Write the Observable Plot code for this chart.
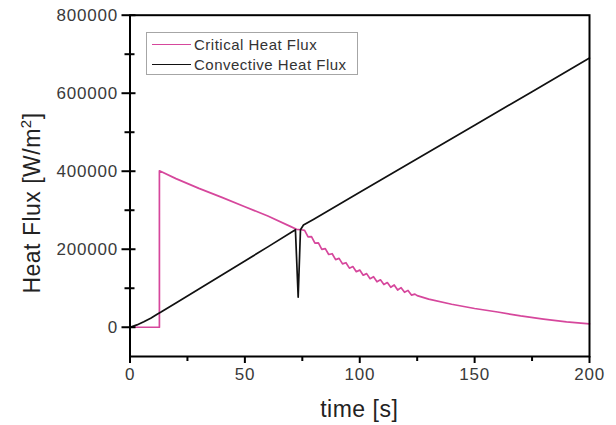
<!DOCTYPE html>
<html>
<head>
<meta charset="utf-8">
<script src="https://cdn.jsdelivr.net/npm/d3@7"></script>
<script src="https://cdn.jsdelivr.net/npm/@observablehq/plot@0.6"></script>
<style>
  body { margin: 0; background: #fff; }
  #wrap { position: relative; width: 616px; height: 425px; font-family: "Liberation Sans", Arial, sans-serif; }
  #legend { position: absolute; left: 146px; top: 32px; width: 212px; height: 43px; border: 1px solid #a6a6a6; background: #fff; box-sizing: border-box; }
  .row { position: absolute; left: 0; height: 18px; width: 100%; }
  .sw { position: absolute; left: 5px; top: 8px; width: 39px; height: 0; border-top: 1.6px solid; }
  .lt { position: absolute; left: 47px; top: 0; font-size: 15px; line-height: 18px; color: #333; letter-spacing: 0.5px; white-space: nowrap; }
</style>
</head>
<body>
<div id="wrap"><div id="chart"></div><div id="legend"></div></div>
<script>
// ---- data ----
const seriesNames = ["Critical Heat Flux", "Convective Heat Flux"];
const seriesColors = ["#d6479c", "#111111"];

const critT = [0, 12.8, 12.8, 20, 30, 40, 50, 60, 70, 72.5, 74.5,
  76, 77.5, 79, 80.5, 82, 83.5, 85, 86.5, 88, 89.5, 91, 92.5, 94, 95.5, 97, 98.5,
  100, 101.5, 103, 104.5, 106, 107.5, 109, 110.5, 112, 113.5, 115, 116.5, 118, 119.5,
  121, 122.5, 124, 125, 130, 140, 150, 160, 170, 180, 190, 200];
const critV = [0, 0, 401000, 381000, 356000, 333000, 309000, 285000, 258000, 251000, 250000,
  248500, 231500, 232500, 215500, 216500, 199500, 201500, 186500, 188500, 173500, 176500, 162500, 165500, 151500, 155500, 142500,
  146500, 133500, 137500, 124500, 129500, 116500, 121500, 109500, 114500, 102500, 108500, 95500, 101500, 89500,
  94500, 82500, 85000, 81000, 72000, 59000, 48000, 39000, 29000, 21000, 14000, 8500];

const convT = [0, 3, 6, 9, 12, 13.5, 20, 30, 40, 50, 60, 72, 73.2, 74.2, 75.5, 80, 100, 125, 150, 175, 200];
const convV = [0, 6000, 14000, 23000, 34000, 39000, 62000, 98000, 134000, 170000, 206000, 250000, 77000, 250000, 262000, 277000, 346000, 432000, 518000, 604000, 690000];

const xMajor = [0, 50, 100, 150, 200];
const xMinor = [25, 75, 125, 175];
const yMajor = [0, 200000, 400000, 600000, 800000];
const yMinor = [100000, 300000, 500000, 700000];

const xTitle = "time [s]";
const yTitleMain = "Heat Flux [W/m";
const yTitleSup = "2";
const yTitleEnd = "]";

// ---- build ----
const crit = critT.map((t, i) => ({t, v: critV[i]}));
const conv = convT.map((t, i) => ({t, v: convV[i]}));

const W = 616, H = 425, mL = 129.5, mR = 27, mT = 14.7, mB = 69;
const plotW = W - mL - mR;

const chart = Plot.plot({
  width: W, height: H,
  marginLeft: mL, marginRight: mR, marginTop: mT, marginBottom: mB,
  x: {domain: [0, 200]},
  y: {domain: [-75000, 800000]},
  style: {fontFamily: '"Liberation Sans", Arial, sans-serif', fontSize: "17px", color: "#3a3a3a", background: "#fff", letterSpacing: "0.8px"},
  marks: [
    Plot.line(crit, {x: "t", y: "v", stroke: seriesColors[0], strokeWidth: 1.7}),
    Plot.line(conv, {x: "t", y: "v", stroke: seriesColors[1], strokeWidth: 1.7}),
    Plot.frame({stroke: "#000", strokeWidth: 2}),
    Plot.axisX(xMajor, {tickSize: 7, tickPadding: 4, strokeWidth: 2, stroke: "#000", label: null, tickFormat: d => String(d)}),
    Plot.axisX(xMinor, {tickSize: 5, strokeWidth: 2, stroke: "#000", label: null, tickFormat: () => ""}),
    Plot.axisY(yMajor, {tickSize: 8, tickPadding: 4, strokeWidth: 2, stroke: "#000", label: null, tickFormat: d => String(d)}),
    Plot.axisY(yMinor, {tickSize: 5, strokeWidth: 2, stroke: "#000", label: null, tickFormat: () => ""}),
    Plot.tickY(yMajor, {y: d => d, insetRight: plotW - 6, stroke: "#000", strokeWidth: 2}),
    Plot.tickY(yMinor, {y: d => d, insetRight: plotW - 5, stroke: "#000", strokeWidth: 2})
  ]
});
document.getElementById("chart").appendChild(chart);

const svg = d3.select(chart);
svg.append("text")
  .attr("x", mL + plotW / 2).attr("y", 417)
  .attr("text-anchor", "middle")
  .style("font-size", "23px").style("letter-spacing", "0.5px").style("fill", "#222")
  .text(xTitle);
const yt = svg.append("text")
  .attr("transform", "translate(40,203) rotate(-90)")
  .attr("text-anchor", "middle")
  .style("font-size", "23px").style("letter-spacing", "0.5px").style("fill", "#222");
yt.append("tspan").text(yTitleMain);
yt.append("tspan").attr("dy", -9).style("font-size", "15px").text(yTitleSup);
yt.append("tspan").attr("dy", 9).text(yTitleEnd);

// legend
const legend = document.getElementById("legend");
seriesNames.forEach((name, i) => {
  const row = document.createElement("div");
  row.className = "row";
  row.style.top = (3 + i * 19.5) + "px";
  const sw = document.createElement("div");
  sw.className = "sw";
  sw.style.borderTopColor = seriesColors[i];
  const lt = document.createElement("div");
  lt.className = "lt";
  lt.textContent = name;
  row.appendChild(sw); row.appendChild(lt);
  legend.appendChild(row);
});
</script>
</body>
</html>
